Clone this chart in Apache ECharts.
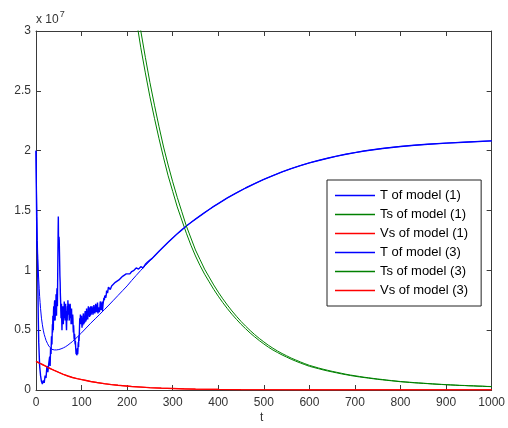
<!DOCTYPE html>
<html>
<head>
<meta charset="utf-8">
<script src="https://cdn.jsdelivr.net/npm/echarts@6/dist/echarts.min.js"></script>
<style>
  html, body { margin: 0; padding: 0; background: #fff; }
  #chart { width: 508px; height: 428px; }
</style>
</head>
<body>
<div id="chart"></div>
<script>
// Cell populations over time, values in units of 1e7.
const xTicks = [0, 100, 200, 300, 400, 500, 600, 700, 800, 900, 1000];
const yTicks = [0, 0.5, 1, 1.5, 2, 2.5, 3];

// T of model (1): smooth trajectory [t, value]
const tModel1 = [
  [0, 2.0], [1, 1.7], [2, 1.45], [3, 1.25], [4, 1.1], [5, 1.0], [6, 0.92], [7, 0.85],
  [8, 0.78], [9, 0.73], [10, 0.68], [12, 0.6], [14, 0.545], [16, 0.5], [18, 0.465],
  [20, 0.44], [22, 0.415], [25, 0.39], [28, 0.368], [30, 0.355], [35, 0.34], [40, 0.335],
  [45, 0.335], [50, 0.338], [55, 0.344], [60, 0.352], [65, 0.362], [70, 0.375], [75, 0.39],
  [80, 0.405], [90, 0.44], [100, 0.478], [110, 0.518], [120, 0.558], [130, 0.595],
  [140, 0.633], [150, 0.671], [160, 0.71], [170, 0.75], [180, 0.79], [190, 0.83], [200, 0.87],
  [210, 0.915], [220, 0.958], [230, 1.0], [240, 1.04], [250, 1.08], [260, 1.12], [270, 1.16],
  [280, 1.198], [290, 1.235], [300, 1.27], [310, 1.305], [320, 1.338], [330, 1.37],
  [340, 1.4], [350, 1.428], [360, 1.455], [370, 1.482], [380, 1.508], [390, 1.534],
  [400, 1.558], [420, 1.605], [440, 1.648], [460, 1.688], [480, 1.725], [500, 1.76],
  [520, 1.792], [540, 1.822], [560, 1.85], [580, 1.875], [600, 1.898], [620, 1.918],
  [640, 1.937], [660, 1.954], [680, 1.97], [700, 1.984], [720, 1.997], [740, 2.008],
  [760, 2.018], [780, 2.027], [800, 2.035], [830, 2.045], [860, 2.054], [900, 2.063],
  [950, 2.073], [1000, 2.082]
];

// T of model (3): noisy trajectory [t, value]
const tModel3 = [
  [0, 2.0], [1, 1.6], [2, 1.2], [3, 1.13], [4, 0.9], [5, 0.6], [6, 0.4], [7, 0.3], [8, 0.2],
  [10, 0.12], [12, 0.07], [14, 0.05], [16, 0.08], [18, 0.06], [20, 0.12], [22, 0.1], [24, 0.2],
  [26, 0.15], [28, 0.22], [30, 0.28], [31, 0.2], [32, 0.35], [33, 0.3], [34, 0.45], [35, 0.38],
  [36, 0.55], [36.5, 0.48], [37, 0.62], [37.5, 0.55], [38, 0.5], [38.5, 0.66], [39, 0.7],
  [39.5, 0.58], [40, 0.6], [40.5, 0.72], [41, 0.75], [41.5, 0.63], [42, 0.58], [42.5, 0.7],
  [43, 0.72], [43.5, 0.66], [44, 0.8], [44.5, 0.7], [45, 0.62], [45.5, 0.78], [46, 0.85],
  [46.5, 0.72], [47, 0.7], [47.5, 0.9], [48, 1.1], [48.5, 1.3], [49, 1.45], [49.5, 1.22],
  [50, 1.2], [50.5, 1.28], [51, 1.25], [51.5, 1.15], [52, 1.05], [52.5, 0.95], [53, 0.9],
  [53.5, 0.8], [54, 0.75], [54.5, 0.66], [55, 0.6], [55.5, 0.68], [56, 0.72], [56.5, 0.58],
  [57, 0.5], [57.5, 0.6], [58, 0.65], [58.5, 0.56], [59, 0.7], [59.5, 0.62], [60, 0.55],
  [60.5, 0.64], [61, 0.68], [61.5, 0.6], [62, 0.74], [62.5, 0.66], [63, 0.6], [63.5, 0.7],
  [64, 0.58], [64.5, 0.63], [65, 0.72], [65.5, 0.66], [66, 0.62], [66.5, 0.55], [67, 0.5],
  [67.5, 0.6], [68, 0.66], [68.5, 0.58], [69, 0.7], [69.5, 0.64], [70, 0.75], [70.5, 0.68],
  [71, 0.63], [71.5, 0.72], [72, 0.7], [72.5, 0.62], [73, 0.58], [73.5, 0.67], [74, 0.65],
  [74.5, 0.6], [75, 0.72], [75.5, 0.66], [76, 0.6], [76.5, 0.65], [77, 0.55], [77.5, 0.62],
  [78, 0.68], [78.5, 0.6], [79, 0.62], [79.5, 0.55], [80, 0.58], [80.5, 0.63], [81, 0.6],
  [81.5, 0.52], [82, 0.48], [82.5, 0.54], [83, 0.5], [83.5, 0.44], [84, 0.42], [84.5, 0.47],
  [85, 0.45], [85.5, 0.4], [86, 0.38], [86.5, 0.41], [87, 0.36], [87.5, 0.33], [88, 0.3],
  [88.5, 0.34], [89, 0.32], [89.5, 0.29], [90, 0.28], [90.5, 0.31], [91, 0.35], [91.5, 0.3],
  [92, 0.33], [92.5, 0.38], [93, 0.4], [93.5, 0.36], [94, 0.45], [94.5, 0.41], [95, 0.42],
  [95.5, 0.52], [96, 0.6], [96.5, 0.55], [97, 0.58], [97.5, 0.63], [98, 0.64], [98.5, 0.57],
  [99, 0.55], [99.5, 0.6], [100, 0.62], [100.5, 0.56], [101, 0.52], [101.5, 0.58], [102, 0.6],
  [102.5, 0.54], [103, 0.56], [103.5, 0.62], [104, 0.64], [104.5, 0.57], [105, 0.55],
  [105.5, 0.6], [106, 0.62], [106.5, 0.56], [107, 0.58], [107.5, 0.64], [108, 0.66],
  [108.5, 0.59], [109, 0.57], [109.5, 0.62], [110, 0.63], [110.5, 0.58], [111, 0.68],
  [111.5, 0.61], [112, 0.6], [112.5, 0.66], [113, 0.65], [113.5, 0.59], [114, 0.62],
  [114.5, 0.68], [115, 0.7], [115.5, 0.62], [116, 0.63], [116.5, 0.69], [117, 0.67],
  [117.5, 0.61], [118, 0.6], [118.5, 0.66], [119, 0.65], [119.5, 0.62], [120, 0.7], [121, 0.63],
  [122, 0.64], [123, 0.7], [124, 0.69], [125, 0.63], [126, 0.65], [127, 0.71], [128, 0.7],
  [129, 0.64], [130, 0.66], [131, 0.72], [132, 0.72], [133, 0.65], [134, 0.68], [135, 0.73],
  [136, 0.64], [137, 0.69], [138, 0.7], [139, 0.65], [140, 0.67], [141, 0.74], [142, 0.73],
  [143, 0.67], [144, 0.7], [145, 0.74], [146, 0.66], [147, 0.71], [148, 0.72], [149, 0.77],
  [150, 0.75], [151, 0.79], [152, 0.8], [153, 0.77], [154, 0.79], [155, 0.83], [156, 0.84],
  [157, 0.81], [158, 0.82], [159, 0.86], [160, 0.85], [163, 0.84], [166, 0.87], [170, 0.88],
  [174, 0.9], [178, 0.89], [182, 0.92], [186, 0.93], [190, 0.95], [194, 0.94], [198, 0.97],
  [202, 0.98], [206, 0.97], [210, 0.99], [215, 1.0], [220, 1.02], [225, 1.01], [230, 1.03],
  [235, 1.02], [240, 1.05], [245, 1.07], [250, 1.085], [255, 1.1], [260, 1.12], [270, 1.16],
  [280, 1.198], [290, 1.235], [300, 1.27], [310, 1.305], [320, 1.338], [330, 1.37],
  [340, 1.4], [350, 1.428], [360, 1.455], [370, 1.482], [380, 1.508], [390, 1.534],
  [400, 1.558], [420, 1.605], [440, 1.648], [460, 1.688], [480, 1.725], [500, 1.76],
  [520, 1.792], [540, 1.822], [560, 1.85], [580, 1.875], [600, 1.898], [620, 1.918],
  [640, 1.937], [660, 1.954], [680, 1.97], [700, 1.984], [720, 1.997], [740, 2.008],
  [760, 2.018], [780, 2.027], [800, 2.035], [830, 2.045], [860, 2.054], [900, 2.063],
  [950, 2.073], [1000, 2.082]
];

// Ts of both models, sampled every 10 time units from t = 200
const tsTimes = [
  200, 210, 220, 230, 240, 250, 260, 270, 280, 290, 300, 310, 320, 330, 340, 350, 360, 370,
  380, 390, 400, 410, 420, 430, 440, 450, 460, 470, 480, 490, 500, 510, 520, 530, 540, 550,
  560, 570, 580, 590, 600, 610, 620, 630, 640, 650, 660, 670, 680, 690, 700, 710, 720, 730,
  740, 750, 760, 770, 780, 790, 800, 810, 820, 830, 840, 850, 860, 870, 880, 890, 900, 910,
  920, 930, 940, 950, 960, 970, 980, 990, 1000
];
const tsModel1 = [
  3.62, 3.35, 3.10, 2.86, 2.65, 2.45, 2.27, 2.10, 1.94, 1.79, 1.66, 1.53, 1.42, 1.31, 1.21,
  1.12, 1.04, 0.968, 0.904, 0.841, 0.784, 0.730, 0.680, 0.633, 0.590, 0.549, 0.512, 0.476,
  0.444, 0.413, 0.385, 0.358, 0.334, 0.313, 0.293, 0.275, 0.257, 0.241, 0.226, 0.212, 0.198,
  0.188, 0.178, 0.168, 0.159, 0.151, 0.143, 0.135, 0.128, 0.121, 0.115, 0.109, 0.104, 0.099,
  0.094, 0.089, 0.085, 0.081, 0.077, 0.073, 0.069, 0.066, 0.063, 0.060, 0.058, 0.055, 0.053,
  0.050, 0.048, 0.046, 0.044, 0.042, 0.040, 0.038, 0.037, 0.035, 0.034, 0.032, 0.031, 0.029,
  0.028
];
const tsModel3 = [
  3.80, 3.51, 3.25, 3.00, 2.78, 2.57, 2.38, 2.20, 2.03, 1.88, 1.74, 1.61, 1.49, 1.37, 1.27,
  1.17, 1.09, 1.01, 0.944, 0.878, 0.818, 0.762, 0.710, 0.661, 0.616, 0.573, 0.534, 0.497,
  0.463, 0.431, 0.402, 0.374, 0.349, 0.326, 0.305, 0.286, 0.267, 0.251, 0.235, 0.220, 0.206,
  0.195, 0.184, 0.174, 0.165, 0.156, 0.148, 0.140, 0.132, 0.125, 0.119, 0.113, 0.107, 0.102,
  0.097, 0.092, 0.088, 0.083, 0.079, 0.075, 0.071, 0.068, 0.065, 0.062, 0.059, 0.057, 0.054,
  0.052, 0.049, 0.047, 0.045, 0.043, 0.041, 0.039, 0.038, 0.036, 0.035, 0.033, 0.032, 0.030,
  0.029
];

// Vs of both models [t, value]
const vsModel1 = [
  [0, 0.24], [5, 0.231], [10, 0.222], [15, 0.212], [20, 0.203], [25, 0.193], [30, 0.183],
  [35, 0.174], [40, 0.165], [50, 0.148], [60, 0.132], [70, 0.118], [80, 0.106], [90, 0.096],
  [100, 0.088], [110, 0.08], [120, 0.072], [135, 0.062], [150, 0.053], [165, 0.046],
  [180, 0.04], [195, 0.035], [210, 0.03], [230, 0.025], [250, 0.02], [275, 0.016],
  [300, 0.013], [325, 0.01], [350, 0.008], [400, 0.005], [450, 0.003], [500, 0.002],
  [600, 0.001], [800, 0.0005], [1000, 0.0003]
];
const vsModel3 = [
  [0, 0.238], [5, 0.229], [10, 0.22], [15, 0.21], [20, 0.2], [25, 0.19], [30, 0.18],
  [35, 0.171], [40, 0.163], [50, 0.146], [60, 0.13], [70, 0.116], [80, 0.104], [90, 0.094],
  [100, 0.086], [110, 0.078], [120, 0.07], [135, 0.061], [150, 0.052], [165, 0.045],
  [180, 0.039], [195, 0.034], [210, 0.029], [230, 0.024], [250, 0.019], [275, 0.015],
  [300, 0.012], [325, 0.01], [350, 0.008], [400, 0.005], [450, 0.003], [500, 0.002],
  [600, 0.001], [800, 0.0005], [1000, 0.0003]
];

const pairUp = (times, values) => times.map((t, i) => [t, values[i]]);

const seriesNames = [
  'T of model (1)', 'Ts of model (1)', 'Vs of model (1)',
  'T of model (3)', 'Ts of model (3)', 'Vs of model (3)'
];
const seriesData = [
  tModel1, pairUp(tsTimes, tsModel1), vsModel1,
  tModel3, pairUp(tsTimes, tsModel3), vsModel3
];
const seriesColors = ['#0000ff', '#008000', '#ff0000', '#0000ff', '#008000', '#ff0000'];
const seriesWidths = [1, 1, 1.2, 1.4, 1, 1.2];

const FONT = 'Liberation Sans, Arial, sans-serif';
const AXIS_COLOR = '#3a3a3a';
const LABEL_COLOR = '#333';

const chart = echarts.init(document.getElementById('chart'), null, { renderer: 'canvas' });

const tickStyle = { show: true, inside: true, length: 5, lineStyle: { color: AXIS_COLOR, width: 1 } };
const lineStyleAxis = { show: true, onZero: false, lineStyle: { color: AXIS_COLOR, width: 1 } };

const xMin = xTicks[0], xMax = xTicks[xTicks.length - 1], xStep = xTicks[1] - xTicks[0];
const yMin = yTicks[0], yMax = yTicks[yTicks.length - 1], yStep = yTicks[1] - yTicks[0];

chart.setOption({
  animation: false,
  backgroundColor: '#fff',
  grid: { left: 36, right: 15, top: 31, bottom: 38, containLabel: false },
  xAxis: [
    {
      type: 'value', position: 'bottom', min: xMin, max: xMax, interval: xStep,
      axisLine: lineStyleAxis, axisTick: tickStyle, splitLine: { show: false },
      axisLabel: {
        margin: 7, color: LABEL_COLOR, fontFamily: FONT, fontSize: 12,
        formatter: (v) => String(v)
      }
    },
    {
      type: 'value', position: 'top', min: xMin, max: xMax, interval: xStep,
      axisLine: lineStyleAxis, axisTick: tickStyle, splitLine: { show: false },
      axisLabel: { show: false }
    }
  ],
  yAxis: [
    {
      type: 'value', position: 'left', min: yMin, max: yMax, interval: yStep,
      axisLine: lineStyleAxis, axisTick: tickStyle, splitLine: { show: false },
      axisLabel: {
        margin: 5, color: LABEL_COLOR, fontFamily: FONT, fontSize: 12,
        formatter: (v) => String(v)
      }
    },
    {
      type: 'value', position: 'right', min: yMin, max: yMax, interval: yStep,
      axisLine: lineStyleAxis, axisTick: tickStyle, splitLine: { show: false },
      axisLabel: { show: false }
    }
  ],
  legend: {
    orient: 'vertical',
    left: 327, top: 180,
    data: seriesNames,
    icon: 'rect',
    itemWidth: 40, itemHeight: 1.5, itemGap: 0,
    padding: [6, 13, 6, 8],
    backgroundColor: '#fff',
    borderColor: '#222', borderWidth: 1, borderRadius: 0,
    textStyle: { color: '#000', fontFamily: FONT, fontSize: 13, lineHeight: 19 },
    selectedMode: false
  },
  graphic: [
    {
      type: 'text', left: 36, top: 10,
      style: {
        text: '{b|x 10}{s|7}',
        rich: {
          b: { fontFamily: FONT, fontSize: 12, fill: LABEL_COLOR, verticalAlign: 'bottom', lineHeight: 16 },
          s: { fontFamily: FONT, fontSize: 9, fill: LABEL_COLOR, verticalAlign: 'top', lineHeight: 16, padding: [0, 0, 6, 1] }
        }
      }
    },
    {
      type: 'text', left: 260, top: 412,
      style: { text: 't', fontFamily: FONT, fontSize: 12, fill: LABEL_COLOR }
    }
  ],
  series: seriesData.map((d, i) => ({
    name: seriesNames[i],
    type: 'line',
    data: d,
    xAxisIndex: 0, yAxisIndex: 0,
    showSymbol: false, symbol: 'none',
    clip: true,
    color: seriesColors[i],
    lineStyle: { color: seriesColors[i], width: seriesWidths[i] },
    emphasis: { disabled: true }
  }))
});
</script>
</body>
</html>
